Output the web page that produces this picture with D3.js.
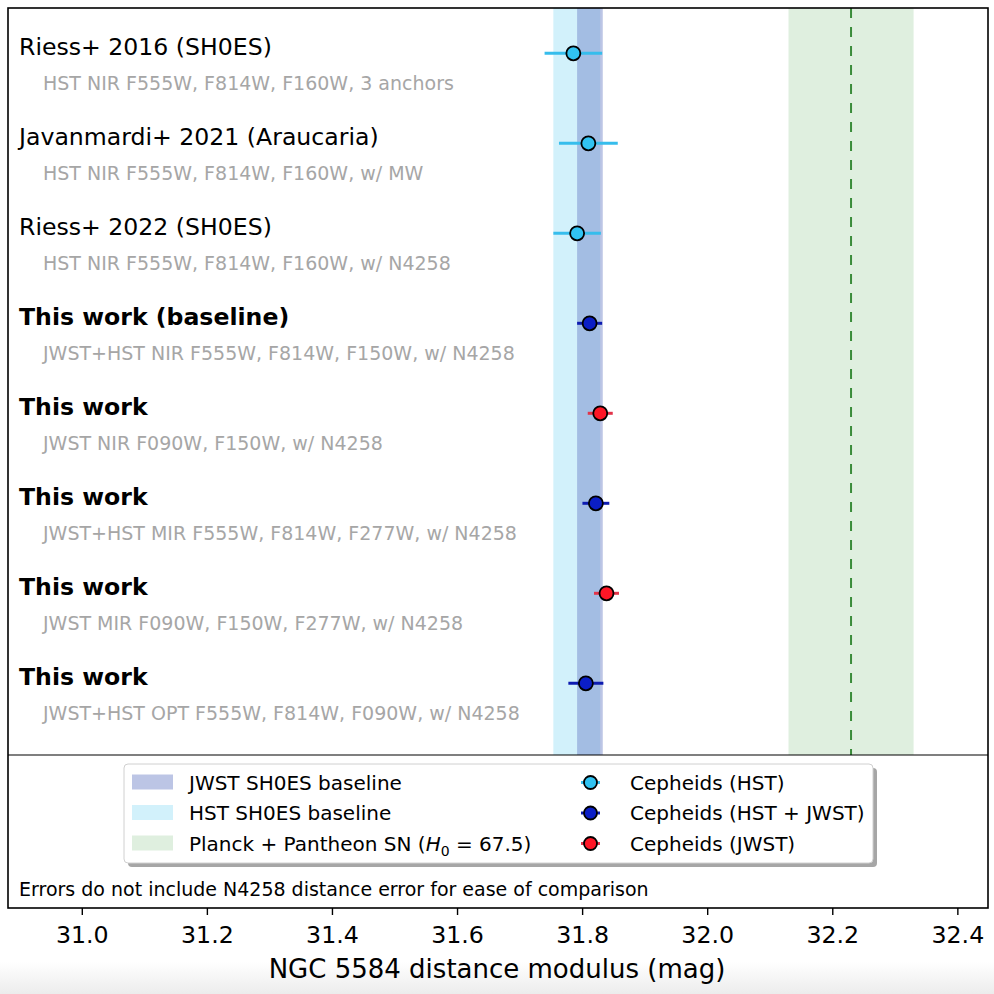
<!DOCTYPE html>
<html>
<head>
<meta charset="utf-8">
<script src="https://cdn.jsdelivr.net/npm/d3@7"></script>
<style>
  html, body { margin: 0; padding: 0; background: #ffffff; }
  svg { display: block; font-family: "DejaVu Sans", sans-serif; }
</style>
</head>
<body>
<svg id="chart" width="994" height="994"></svg>
<script>
// ---------------- data ----------------
const titles = [
  "Riess+ 2016 (SH0ES)",
  "Javanmardi+ 2021 (Araucaria)",
  "Riess+ 2022 (SH0ES)",
  "This work (baseline)",
  "This work",
  "This work",
  "This work",
  "This work"
];
const subtitles = [
  "HST NIR F555W, F814W, F160W, 3 anchors",
  "HST NIR F555W, F814W, F160W, w/ MW",
  "HST NIR F555W, F814W, F160W, w/ N4258",
  "JWST+HST NIR F555W, F814W, F150W, w/ N4258",
  "JWST NIR F090W, F150W, w/ N4258",
  "JWST+HST MIR F555W, F814W, F277W, w/ N4258",
  "JWST MIR F090W, F150W, F277W, w/ N4258",
  "JWST+HST OPT F555W, F814W, F090W, w/ N4258"
];
const boldTitle = [false, false, false, true, true, true, true, true];
const mu    = [31.786, 31.810, 31.792, 31.812, 31.829, 31.822, 31.839, 31.806];
const muErr = [0.046, 0.047, 0.038, 0.020, 0.020, 0.0215, 0.020, 0.028];
const group = ["HST", "HST", "HST", "HST+JWST", "JWST", "HST+JWST", "JWST", "HST+JWST"];

const hstBand   = [31.754, 31.829];
const jwstBand  = [31.792, 31.833];
const planckBand = [32.13, 32.33];
const planckMu  = 32.23;

const xTicks = [31.0, 31.2, 31.4, 31.6, 31.8, 32.0, 32.2, 32.4];
const xDomain = [30.882, 32.449];
const xLabel = "NGC 5584 distance modulus (mag)";
const footnote = "Errors do not include N4258 distance error for ease of comparison";

const bandLegend = ["JWST SH0ES baseline", "HST SH0ES baseline", "Planck + Pantheon SN"];
const pointLegend = ["Cepheids (HST)", "Cepheids (HST + JWST)", "Cepheids (JWST)"];
const pointGroups = ["HST", "HST+JWST", "JWST"];

// ---------------- styles ----------------
const groupFill = { "HST": "#31c3f2", "HST+JWST": "#0b1ec6", "JWST": "#ff1626" };
const groupBar  = { "HST": "#36bdec", "HST+JWST": "#0d1bb0", "JWST": "#e2344a" };
const bandFill = { jwst: "#6b7fc6", hst: "#d2f1fb", planck: "#dfefdf" };
const bandOpacity = { jwst: 0.45, hst: 1, planck: 1 };

// ---------------- layout ----------------
const L = 8, R = 988, T = 8, MID = 755, B = 908;
const svg = d3.select("#chart");
const defs = svg.append("defs");
const grad = defs.append("linearGradient").attr("id", "bg").attr("x1", 0).attr("x2", 0).attr("y1", 0).attr("y2", 1);
grad.append("stop").attr("offset", "0%").attr("stop-color", "#ffffff");
grad.append("stop").attr("offset", "100%").attr("stop-color", "#ececec");
svg.append("rect").attr("width", 994).attr("height", 994).attr("fill", "#ffffff");
svg.append("rect").attr("y", 962).attr("width", 994).attr("height", 32).attr("fill", "url(#bg)");

const x = d3.scaleLinear().domain(xDomain).range([L, R]);
const y = d3.scalePoint().domain(d3.range(titles.length)).range([53.3, 683.3]);

const mainG = svg.append("g");

// bands
mainG.append("rect")
  .attr("x", x(hstBand[0])).attr("width", x(hstBand[1]) - x(hstBand[0]))
  .attr("y", T).attr("height", MID - T)
  .attr("fill", bandFill.hst).attr("fill-opacity", bandOpacity.hst);
mainG.append("rect")
  .attr("x", x(jwstBand[0])).attr("width", x(jwstBand[1]) - x(jwstBand[0]))
  .attr("y", T).attr("height", MID - T)
  .attr("fill", bandFill.jwst).attr("fill-opacity", bandOpacity.jwst);
mainG.append("rect")
  .attr("x", x(planckBand[0])).attr("width", x(planckBand[1]) - x(planckBand[0]))
  .attr("y", T).attr("height", MID - T)
  .attr("fill", bandFill.planck);
mainG.append("line")
  .attr("x1", x(planckMu)).attr("x2", x(planckMu))
  .attr("y1", T).attr("y2", MID)
  .attr("stroke", "#3a8c3a").attr("stroke-width", 2)
  .attr("stroke-dasharray", "10,9");

// labels
const rows = mainG.selectAll("g.row").data(d3.range(titles.length)).join("g").attr("class", "row");
rows.append("text")
  .attr("x", 19).attr("y", i => y(i) + 1.5)
  .attr("font-size", "23.6px")
  .attr("font-weight", i => boldTitle[i] ? "bold" : "normal")
  .attr("fill", "#000")
  .text(i => titles[i]);
rows.append("text")
  .attr("x", 43).attr("y", i => y(i) + 37)
  .attr("font-size", "19px")
  .attr("fill", "#a6a6a6")
  .text(i => subtitles[i]);

// error bars and points
rows.append("line")
  .attr("x1", i => x(mu[i] - muErr[i])).attr("x2", i => x(mu[i] + muErr[i]))
  .attr("y1", i => y(i)).attr("y2", i => y(i))
  .attr("stroke", i => groupBar[group[i]]).attr("stroke-width", 3);
rows.append("circle")
  .attr("cx", i => x(mu[i])).attr("cy", i => y(i)).attr("r", 7)
  .attr("fill", i => groupFill[group[i]])
  .attr("stroke", "#000").attr("stroke-width", 1.8);

// lower panel: legend
const lg = svg.append("g");
lg.append("rect").attr("x", 128).attr("y", 768).attr("width", 749).attr("height", 99)
  .attr("rx", 4).attr("fill", "#a6a6a6");
lg.append("rect").attr("x", 124).attr("y", 764).attr("width", 749).attr("height", 99)
  .attr("rx", 4).attr("fill", "#ffffff").attr("stroke", "#d0d0d0").attr("stroke-width", 1);

const legY = d3.scalePoint().domain([0, 1, 2]).range([789.5, 850.5]);
const legBandKeys = ["jwst", "hst", "planck"];
legBandKeys.forEach((k, i) => {
  lg.append("rect").attr("x", 132).attr("y", legY(i) - 15).attr("width", 41).attr("height", 15)
    .attr("fill", bandFill[k]).attr("fill-opacity", bandOpacity[k]);
});
bandLegend.forEach((t, i) => {
  const tx = lg.append("text").attr("x", 189).attr("y", legY(i))
    .attr("font-size", "20px").attr("fill", "#000").text(t);
  if (i === 2) {
    tx.append("tspan").text(" (");
    tx.append("tspan").attr("font-style", "italic").text("H");
    tx.append("tspan").attr("font-size", "14px").attr("dy", 5).text("0");
    tx.append("tspan").attr("dy", -5).text(" = 67.5)");
  }
});
pointGroups.forEach((g, i) => {
  lg.append("line").attr("x1", 581).attr("x2", 600)
    .attr("y1", legY(i) - 7).attr("y2", legY(i) - 7)
    .attr("stroke", groupBar[g]).attr("stroke-width", 3);
  lg.append("circle").attr("cx", 590.5).attr("cy", legY(i) - 7).attr("r", 6.5)
    .attr("fill", groupFill[g]).attr("stroke", "#000").attr("stroke-width", 1.8);
  lg.append("text").attr("x", 630).attr("y", legY(i))
    .attr("font-size", "20px").attr("fill", "#000").text(pointLegend[i]);
});

svg.append("text").attr("x", 19).attr("y", 895.5)
  .attr("font-size", "19px").attr("fill", "#000").text(footnote);

// frames
svg.append("line").attr("x1", L).attr("x2", R).attr("y1", MID).attr("y2", MID)
  .attr("stroke", "#000").attr("stroke-width", 1.2);
svg.append("rect").attr("x", L).attr("y", T).attr("width", R - L).attr("height", B - T)
  .attr("fill", "none").attr("stroke", "#000").attr("stroke-width", 1.6);

// axis
const axis = d3.axisBottom(x).tickValues(xTicks).tickFormat(d3.format(".1f"))
  .tickSize(7).tickPadding(11.5);
const ag = svg.append("g").attr("transform", `translate(0,${B})`).call(axis);
ag.select(".domain").remove();
ag.selectAll(".tick line").attr("stroke", "#000").attr("stroke-width", 1.4);
ag.selectAll(".tick text").attr("font-size", "23.7px").attr("fill", "#000")
  .attr("font-family", "DejaVu Sans, sans-serif");

svg.append("text").attr("x", 497).attr("y", 977.5)
  .attr("text-anchor", "middle").attr("font-size", "26px").attr("fill", "#000")
  .text(xLabel);
</script>
</body>
</html>
